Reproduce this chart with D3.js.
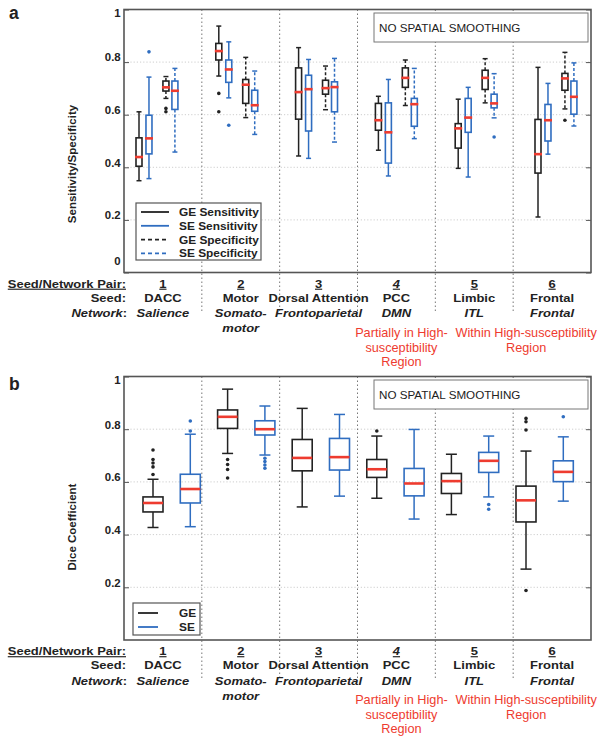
<!DOCTYPE html>
<html><head><meta charset="utf-8">
<script src="https://cdn.jsdelivr.net/npm/d3@7"></script>
<style>
body{margin:0;background:#fff;}
text{font-family:"Liberation Sans",Arial,Helvetica,sans-serif;}
</style></head>
<body><svg id="chart" width="604" height="746"></svg>
<script>
// ---------------- DATA ----------------
const pairs = ["1","2","3","4","5","6"];
const seeds = ["DACC","Motor","Dorsal Attention","PCC","Limbic","Frontal"];
const networks = [["Salience"],["Somato-","motor"],["Frontoparietal"],["DMN"],["ITL"],["Frontal"]];
const yTicksA = [0,0.2,0.4,0.6,0.8,1];
const yTicksB = [0.2,0.4,0.6,0.8,1];

// stats: [lowerWhisker, Q1, median, Q3, upperWhisker]
const geSens = [[0.349,0.404,0.439,0.512,0.611],[0.747,0.808,0.842,0.871,0.937],[0.443,0.583,0.686,0.778,0.855],
                [0.465,0.541,0.579,0.643,0.670],[0.396,0.473,0.548,0.566,0.659],[0.211,0.378,0.450,0.582,0.780]];
const geSensOut = [[],[0.681,0.611],[],[],[],[]];
const seSens = [[0.357,0.451,0.510,0.598,0.743],[0.664,0.723,0.772,0.808,0.877],[0.434,0.538,0.697,0.750,0.810],
                [0.367,0.416,0.533,0.645,0.734],[0.363,0.533,0.589,0.662,0.704],[0.450,0.500,0.579,0.639,0.719]];
const seSensOut = [[0.839],[0.560],[],[],[],[]];
const geSpec = [[0.662,0.690,0.704,0.728,0.745],[0.589,0.643,0.714,0.734,0.818],[0.619,0.678,0.701,0.731,0.785],
                [0.635,0.704,0.740,0.778,0.808],[0.645,0.696,0.740,0.769,0.813],[0.622,0.693,0.738,0.757,0.837]];
const geSpecOut = [[0.624,0.611],[],[],[],[],[0.579]];
const seSpec = [[0.458,0.620,0.691,0.728,0.776],[0.525,0.613,0.636,0.693,0.766],[0.496,0.611,0.705,0.725,0.814],
                [0.509,0.556,0.640,0.662,0.776],[0.588,0.626,0.643,0.678,0.756],[0.557,0.602,0.668,0.728,0.797]];
const seSpecOut = [[],[],[],[],[0.515],[]];

const geDice = [[0.427,0.486,0.520,0.543,0.610],[0.708,0.803,0.847,0.873,0.952],[0.505,0.642,0.691,0.761,0.879],
                [0.538,0.617,0.648,0.685,0.774],[0.476,0.556,0.603,0.632,0.705],[0.269,0.448,0.530,0.584,0.717]];
const geDiceOut = [[0.721,0.685,0.672,0.657,0.628],[0.685,0.666,0.647,0.615],[],[0.793],[],[0.841,0.828,0.797,0.188]];
const seDice = [[0.430,0.520,0.573,0.629,0.781],[0.702,0.778,0.800,0.832,0.888],[0.546,0.645,0.694,0.765,0.856],
                [0.459,0.547,0.594,0.651,0.799],[0.543,0.636,0.680,0.712,0.774],[0.527,0.601,0.638,0.680,0.771]];
const seDiceOut = [[0.831,0.793],[0.690,0.677,0.664,0.652],[],[],[0.514,0.496],[0.847]];

const legendA = ["GE Sensitivity","SE Sensitivity","GE Specificity","SE Specificity"];
const legendB = ["GE","SE"];
const redNotes = [{group:"4", lines:["Partially in High-","susceptibility","Region"]},
                  {group:"5.5", lines:["Within High-susceptibility","Region"]}];

// ---------------- STYLE ----------------
const BLACK = "#222222", BLUE = "#2f6dc0", RED = "#ee3b2f", FRAME = "#555555";
const svg = d3.select("#chart");
const L = 124, R = 591;
const SX = 1.12; // horizontal text stretch of the original figure

function T(parent, x, y, str, sx){
  return parent.append("text").attr("transform",`translate(${x},${y}) scale(${sx||SX},1)`).text(str);
}

function drawBox(g, x, s, out, color, dashed, bw, cw, mw, y){
  const dash = dashed ? "3,2" : null;
  g.append("line").attr("x1",x).attr("x2",x).attr("y1",y(s[3])).attr("y2",y(s[4]))
    .attr("stroke",color).attr("stroke-width",1.5).attr("stroke-dasharray",dash);
  g.append("line").attr("x1",x).attr("x2",x).attr("y1",y(s[1])).attr("y2",y(s[0]))
    .attr("stroke",color).attr("stroke-width",1.5).attr("stroke-dasharray",dash);
  [s[0],s[4]].forEach(v=>g.append("line").attr("x1",x-cw/2).attr("x2",x+cw/2).attr("y1",y(v)).attr("y2",y(v))
    .attr("stroke",color).attr("stroke-width",1.5));
  g.append("rect").attr("x",x-bw/2).attr("width",bw).attr("y",y(s[3])).attr("height",y(s[1])-y(s[3]))
    .attr("fill","none").attr("stroke",color).attr("stroke-width",1.6);
  g.append("line").attr("x1",x-mw/2).attr("x2",x+mw/2).attr("y1",y(s[2])).attr("y2",y(s[2]))
    .attr("stroke",RED).attr("stroke-width",2.6);
  out.forEach(v=>g.append("circle").attr("cx",x).attr("cy",y(v)).attr("r",1.8).attr("fill",color));
}

function drawPanel(cfg){
  const g = svg.append("g");
  const y = d3.scaleLinear().domain([0,1]).range([cfg.bottom, cfg.top]);
  const band = d3.scaleBand().domain(pairs).range([L,R]);
  // gridlines
  g.append("g").selectAll("line").data(cfg.ticks.filter(t=>t>0&&t<1)).join("line")
    .attr("x1",L).attr("x2",R).attr("y1",d=>y(d)).attr("y2",d=>y(d))
    .attr("stroke","#c8c8c8").attr("stroke-width",0.9).attr("stroke-dasharray","1.2,2");
  // separators
  g.append("g").selectAll("line").data(pairs.slice(1)).join("line")
    .attr("x1",d=>band(d)).attr("x2",d=>band(d)).attr("y1",cfg.top).attr("y2",cfg.bottom+cfg.sepExt)
    .attr("stroke","#777").attr("stroke-width",1).attr("stroke-dasharray","1.5,2.5");
  // boxes
  cfg.series.forEach((se)=>{
    se.stats.forEach((s,i)=>drawBox(g, cfg.x(i*cfg.unitsPerGroup+se.off), s, se.out[i], se.color, se.dashed,
      cfg.bw, cfg.cw, cfg.mw, y));
  });
  // frame
  g.append("rect").attr("x",L).attr("y",cfg.top).attr("width",R-L).attr("height",cfg.bottom-cfg.top)
    .attr("fill","none").attr("stroke",FRAME).attr("stroke-width",1.6);
  // axes (labels sit slightly above their ticks in the original; end labels pulled inward)
  const ax = g.append("g").attr("transform",`translate(${L},0)`)
    .call(d3.axisLeft(y).tickValues(cfg.ticks).tickSize(-5).tickPadding(3).tickFormat(d=>d3.format("")(d)));
  ax.select(".domain").remove();
  ax.selectAll(".tick line").attr("stroke",FRAME).attr("stroke-width",1);
  ax.selectAll(".tick text").attr("font-size",10.2).attr("font-weight","bold").attr("fill","#222")
    .attr("dy","0.38em").attr("y",d=>d===1?3:(d===0?-12:-5)).attr("transform",`scale(${SX},1)`);
  const axr = g.append("g").attr("transform",`translate(${R},0)`)
    .call(d3.axisRight(y).tickValues(cfg.ticks).tickSize(-5).tickFormat(""));
  axr.select(".domain").remove();
  axr.selectAll(".tick line").attr("stroke",FRAME).attr("stroke-width",1);
  // y title
  g.append("text").attr("transform",`translate(76,${cfg.titleY}) rotate(-90)`).attr("text-anchor","middle")
    .attr("font-size",11.5).attr("font-weight","bold").attr("fill","#222").text(cfg.title);
  // panel letter
  g.append("text").attr("x",9).attr("y",cfg.letterY).attr("font-size",17.5).attr("font-weight","bold").attr("fill","#222").text(cfg.letter);
  // NO SPATIAL SMOOTHING
  g.append("rect").attr("x",374).attr("y",cfg.top+3.5).attr("width",214).attr("height",29)
    .attr("fill","#fff").attr("stroke","#777").attr("stroke-width",1);
  T(g,379,cfg.top+22,"NO SPATIAL SMOOTHING",1.07).attr("font-size",10.9).attr("fill","#222");
  // legend
  const lg = g.append("g");
  lg.append("rect").attr("x",cfg.leg.x).attr("y",cfg.leg.y).attr("width",cfg.leg.w).attr("height",cfg.leg.h)
    .attr("fill","#fff").attr("stroke","#555").attr("stroke-width",1.2);
  cfg.legendItems.forEach((t,i)=>{
    const se = cfg.series[i];
    const yy = cfg.leg.y + cfg.leg.y0 + i*cfg.leg.dy;
    lg.append("line").attr("x1",cfg.leg.x+5).attr("x2",cfg.leg.x+5+cfg.leg.lw).attr("y1",yy).attr("y2",yy)
      .attr("stroke",se.color).attr("stroke-width",1.8).attr("stroke-dasharray",se.dashed?"4,3":null);
    T(lg,cfg.leg.tx,yy+4,t,1.09).attr("font-size",10.9).attr("font-weight","bold").attr("fill","#222");
  });
  // category labels
  const b = cfg.bottom, rows = cfg.rows, base = 4.2;
  const lab = g.append("g").attr("font-size",11.6).attr("font-weight","bold").attr("fill","#222");
  T(lab,126,b+rows[0]+base,"Seed/Network Pair:").attr("text-anchor","end").attr("text-decoration","underline");
  T(lab,126,b+rows[1]+base,"Seed:").attr("text-anchor","end");
  const nt = T(lab,127,b+rows[2]+base,"").attr("text-anchor","end");
  nt.append("tspan").attr("font-style","italic").text("Network");
  nt.append("tspan").text(":");
  pairs.forEach((p,i)=>{
    const cx = band(p)+band.bandwidth()/2;
    T(lab,cx,b+rows[0]+base,p).attr("text-anchor","middle")
      .attr("text-decoration","underline").attr("font-style",p==="4"?"italic":null);
    T(lab,cx,b+rows[1]+base,seeds[i]).attr("text-anchor","middle");
    networks[i].forEach((n,j)=>T(lab,cx,b+rows[2+j]+base,n).attr("text-anchor","middle").attr("font-style","italic"));
  });
  // red notes
  const noteX = {"4": band("4")+band.bandwidth()/2+5, "5.5": band("6")+13};
  redNotes.forEach(nte=>{
    nte.lines.forEach((t,j)=>T(g,noteX[nte.group],b+rows[4+j]+base,t,1.06)
      .attr("text-anchor","middle").attr("font-size",12).attr("fill",RED));
  });
}

const rowsLabel = [11,25,40.5,55.5,60,75,89];
// Panel a
const xA = d3.scaleLinear().domain([0,40]).range([139,538]);
drawPanel({
  letter:"a", letterY:19, top:9.5, bottom:272.5, ticks:yTicksA, sepExt:40,
  title:"Sensitivity/Specificity", titleY:164,
  x:xA, unitsPerGroup:8, bw:6, cw:5, mw:8,
  series:[
    {stats:geSens, out:geSensOut, color:BLACK, dashed:false, off:0},
    {stats:seSens, out:seSensOut, color:BLUE, dashed:false, off:1},
    {stats:geSpec, out:geSpecOut, color:BLACK, dashed:true, off:2.7},
    {stats:seSpec, out:seSpecOut, color:BLUE, dashed:true, off:3.6}],
  legendItems:legendA,
  leg:{x:136,y:203,w:125,h:57,y0:9,dy:13.8,lw:28,tx:179},
  rows:rowsLabel
});
// Panel b
const xB = d3.scaleLinear().domain([0,10]).range([153,526]);
drawPanel({
  letter:"b", letterY:390, top:376.5, bottom:640, ticks:yTicksB, sepExt:40,
  title:"Dice Coefficient", titleY:527,
  x:xB, unitsPerGroup:2, bw:20, cw:11, mw:20,
  series:[
    {stats:geDice, out:geDiceOut, color:BLACK, dashed:false, off:0},
    {stats:seDice, out:seDiceOut, color:BLUE, dashed:false, off:1}],
  legendItems:legendB,
  leg:{x:133,y:603,w:67,h:32,y0:10,dy:14,lw:20,tx:179},
  rows:rowsLabel
});
</script></body></html>
